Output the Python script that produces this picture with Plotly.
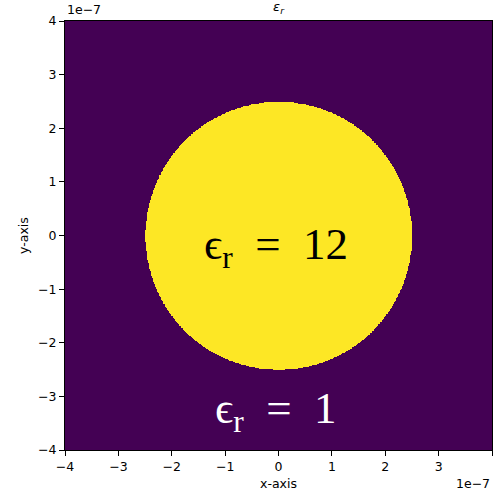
import numpy as np
import plotly.graph_objects as go

# Relative permittivity of a dielectric disk in a vacuum background
eps_disk = 12
eps_background = 1
disk_radius = 2.5e-7          # m
half_width = 4e-7             # m, domain spans [-half_width, half_width]
n_cells = 640

tick_values = [-4, -3, -2, -1, 0, 1, 2, 3, 4]
tick_labels = ["−4", "−3", "−2", "−1", "0", "1", "2", "3", "4"]
scale = 1e-7

coords = np.linspace(-half_width, half_width, n_cells)
X, Y = np.meshgrid(coords, coords)
eps_r = np.where(X**2 + Y**2 <= disk_radius**2, eps_disk, eps_background)

fig = go.Figure(
    go.Heatmap(
        x=coords, y=coords, z=eps_r,
        colorscale="Viridis", zmin=eps_background, zmax=eps_disk,
        showscale=False, zsmooth="best", hoverinfo="skip",
    )
)

tick_font = dict(family="DejaVu Sans", size=12.5, color="black")
axis_common = dict(
    range=[-half_width, half_width],
    tickvals=[v * scale for v in tick_values],
    ticktext=tick_labels,
    ticks="outside", ticklen=5, tickwidth=1, tickcolor="black",
    showline=True, linecolor="black", linewidth=1, mirror=True,
    showgrid=False, zeroline=False,
    tickfont=tick_font,
)

fig.update_xaxes(**axis_common,
                 title=dict(text="x-axis", font=tick_font, standoff=6))
fig.update_yaxes(**axis_common,
                 title=dict(text="y-axis", font=tick_font, standoff=6))

serif = "Liberation Serif"
gap = "\u2002"  # wider space around the equals sign
annotations = [
    # offset labels for the axes
    dict(text="1e−7", x=0, y=1, xref="paper", yref="paper",
         xanchor="left", yanchor="bottom", yshift=2, showarrow=False,
         font=tick_font),
    dict(text="1e−7", x=1, y=0, xref="paper", yref="paper",
         xanchor="right", yanchor="top", yshift=-24, showarrow=False,
         font=tick_font),
    # region labels
    dict(text="ϵ<sub>r</sub>%s=%s%d" % (gap, gap, eps_disk), x=-0.05e-7, y=-0.22e-7,
         xref="x", yref="y", showarrow=False,
         font=dict(family=serif, size=45, color="black")),
    dict(text="ϵ<sub>r</sub>%s=%s%d" % (gap, gap, eps_background), x=-0.05e-7, y=-3.27e-7,
         xref="x", yref="y", showarrow=False,
         font=dict(family=serif, size=45, color="white")),
]

fig.update_layout(
    width=495, height=497,
    margin=dict(l=65, r=3, t=21, b=47),
    paper_bgcolor="white", plot_bgcolor="white",
    title=dict(text="<i>ε<sub>r</sub></i>", x=0.5, xref="paper",
               y=1, yref="container", yanchor="top", pad=dict(t=2),
               font=dict(family="DejaVu Sans", size=13, color="black")),
    annotations=annotations,
)

fig.write_html("out.html")
